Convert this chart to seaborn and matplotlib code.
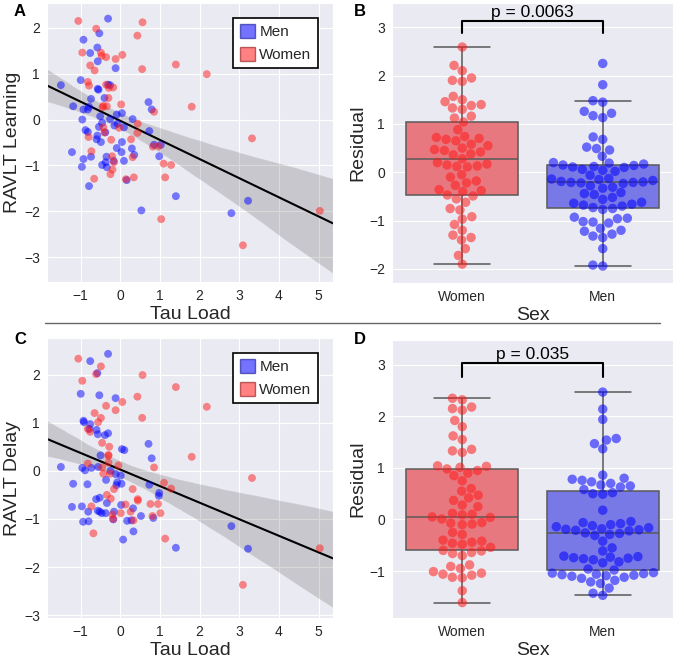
import numpy as np
import pandas as pd
import matplotlib
matplotlib.use("Agg")
import matplotlib.pyplot as plt
from matplotlib.patches import Patch
from matplotlib.lines import Line2D
import seaborn as sns

# ---------------- data ----------------
# Panel A: Tau load vs RAVLT Learning
tauA_men = [-0.31, -0.53, -0.93, -0.58, -0.76, -0.57, -0.12, -1.00, -1.50, -0.57, -0.55, -0.31, -0.26,
            -0.74, -0.40, -1.19, -0.79, -0.93, -0.82, 0.71, 0.79, 0.04, -0.09, -0.26, -0.96, -0.51, 0.31,
            -0.54, -0.46, -0.15, 0.09, -0.07, -0.88, -0.82, -0.58, -0.60, -0.49, -0.38, 0.73, 0.85, 1.02,
            0.04, -0.09, 0.03, 0.29, 0.35, 0.98, -1.22, -0.74, -0.93, -0.35, -0.17, 0.09, -0.37, -0.46,
            -0.97, -0.34, 0.16, -0.79, 1.40, 0.53, 2.80, 3.22]
learn_men = [2.20, 1.88, 1.74, 1.57, 1.45, 1.27, 1.12, 0.86, 0.75, 0.67, 0.65, 0.76, 0.75,
             0.45, 0.47, 0.29, 0.28, 0.22, 0.22, 0.38, 0.22, 0.14, 0.11, 0.01, 0.00, 0.07, 0.01,
             -0.16, -0.07, -0.13, -0.17, -0.09, -0.23, -0.27, -0.35, -0.43, -0.49, -0.28, -0.25, -0.55, -0.55,
             -0.49, -0.62, -0.71, -0.63, -0.77, -0.80, -0.71, -0.81, -0.86, -0.81, -0.90, -0.90, -0.93, -0.99,
             -1.03, -1.04, -1.32, -1.45, -1.67, -1.98, -2.04, -1.77]
tauA_women = [-1.06, -0.61, 0.56, 0.43, -0.96, -0.49, -0.47, -0.36, 0.05, -0.12, -0.76, -0.65, 0.55,
              1.40, 2.18, -0.82, -0.79, -0.36, -0.29, -0.18, -0.30, -0.43, -0.45, -0.34, 0.02, 1.80,
              0.85, -0.80, -0.43, -0.40, -0.03, 0.44, 0.43, -0.23, 0.27, 0.82, 0.97, -0.73, -0.21, 0.31,
              -0.16, 1.09, 1.28, -0.20, -0.25, -0.66, 0.14, 0.34, 1.13, 3.32, 1.03, 3.09, 5.03]
learn_women = [2.15, 1.98, 2.12, 1.83, 1.46, 1.46, 1.39, 1.36, 1.41, 1.32, 1.18, 1.07, 1.10,
               1.20, 0.99, 0.82, 0.74, 0.76, 0.69, 0.70, 0.47, 0.30, 0.27, 0.29, 0.33, 0.28,
               0.17, -0.38, -0.17, -0.28, -0.18, -0.09, -0.29, -0.44, -0.43, -0.59, -0.58, -0.69, -0.80, -0.82,
               -0.93, -0.96, -0.99, -1.09, -1.19, -1.29, -1.30, -1.26, -1.26, -0.41, -2.17, -2.74, -1.99]

# Panel C: Tau load vs RAVLT Delay
tauC_men = [-0.31, -0.76, -0.58, -1.00, -0.53, -0.12, -0.93, -0.92, -0.76, -0.78, -0.60, -0.57, -0.39,
            -0.31, 0.71, 0.79, 0.04, 0.10, -0.50, -1.50, -0.96, -0.89, -0.73, -0.56, -0.25, -0.36, -0.12,
            0.01, -0.08, -0.10, 0.03, -1.19, -0.83, 0.73, 0.98, 0.97, -0.61, -0.52, -0.34, -1.22, -0.97,
            0.02, 0.32, -0.57, -0.52, -0.47, -0.37, -0.81, -0.16, 0.52, 0.83, -0.94, -0.80, -0.18, 0.17,
            0.28, 0.33, 0.07, 1.40, 2.80, 3.22]
delay_men = [2.43, 2.28, 2.03, 1.60, 1.57, 1.51, 1.04, 1.01, 0.97, 0.87, 0.85, 0.76, 0.74,
             0.78, 0.56, 0.26, 0.45, 0.43, 0.32, 0.08, 0.06, 0.01, 0.06, 0.08, 0.00, -0.19, -0.07,
             -0.10, -0.24, -0.30, -0.27, -0.27, -0.28, -0.29, -0.46, -0.52, -0.59, -0.56, -0.67, -0.75, -0.74,
             -0.71, -0.78, -0.83, -0.85, -0.88, -0.88, -0.85, -0.85, -0.94, -0.98, -1.06, -1.05, -1.01, -1.04,
             -1.03, -1.26, -1.43, -1.60, -1.15, -1.62]
tauC_women = [-1.06, -0.49, -0.61, 0.56, -0.96, 1.40, 0.43, 0.05, -0.36, -0.12, 2.18, -0.65, 0.55,
              -0.49, -0.56, -0.82, -0.76, -0.46, -0.28, -0.30, -0.30, 1.80, -0.82, -0.05, 0.85, -0.46,
              -0.43, -0.26, -0.30, 0.31, -0.16, -0.34, -0.24, 0.44, 0.44, 1.28, 1.10, 0.76, 0.95, 0.13,
              -0.73, -0.20, 0.01, 1.01, 0.81, 0.26, -0.18, 0.33, -0.68, 1.13, 3.32, 3.09, 5.03]
delay_women = [2.33, 2.17, 2.01, 1.99, 1.87, 1.74, 1.54, 1.43, 1.35, 1.26, 1.33, 1.20, 1.10,
               1.10, 1.01, 0.87, 0.81, 0.58, 0.50, 0.33, 0.31, 0.29, 0.15, 0.11, 0.07, 0.07,
               -0.06, -0.06, 0.17, -0.38, -0.38, -0.50, -0.58, -0.59, -0.62, -0.37, -0.25, -0.69, -0.69, -0.70,
               -0.74, -0.91, -0.88, -0.88, -0.94, -0.85, -1.00, -1.03, -1.30, -1.41, -0.15, -2.37, -1.61]

# Panel B: residuals (learning) by sex
residB_women = [2.59, 2.21, 2.10, 1.95, 1.90, 1.88, 1.57, 1.50, 1.46, 1.40, 1.38, 1.33, 1.30, 1.16, 1.12,
                1.04, 0.88, 0.74, 0.72, 0.70, 0.68, 0.65, 0.58, 0.55, 0.50, 0.47, 0.45, 0.42, 0.38, 0.36,
                0.28, 0.20, 0.17, 0.15, 0.13, 0.12, 0.11, -0.05, -0.10, -0.18, -0.22, -0.27, -0.36, -0.38,
                -0.40, -0.47, -0.49, -0.55, -0.62, -0.75, -0.78, -0.92, -0.97, -1.08, -1.20, -1.30, -1.35,
                -1.40, -1.58, -1.72, -1.90]
residB_men = [2.25, 1.81, 1.48, 1.45, 1.26, 1.22, 1.17, 1.13, 0.73, 0.68, 0.52, 0.49, 0.46, 0.33,
              0.20, 0.19, 0.17, 0.15, 0.14, 0.12, 0.11, 0.10, 0.06, 0.04, 0.02, -0.06, -0.13, -0.14, -0.15,
              -0.17, -0.19, -0.20, -0.21, -0.21, -0.22, -0.23, -0.28, -0.31, -0.33, -0.42, -0.44, -0.46,
              -0.52, -0.56, -0.62, -0.64, -0.66, -0.68, -0.70, -0.73, -0.75, -0.77, -0.93, -0.95, -0.96,
              -1.02, -1.03, -1.05, -1.16, -1.20, -1.22, -1.28, -1.32, -1.35, -1.58, -1.92, -1.94]

# Panel D: residuals (delay) by sex
residD_women = [2.35, 2.32, 2.18, 2.15, 2.12, 1.92, 1.80, 1.62, 1.55, 1.36, 1.33, 1.30, 1.04, 1.03, 1.01,
                0.98, 0.95, 0.90, 0.85, 0.75, 0.60, 0.55, 0.47, 0.42, 0.37, 0.28, 0.25, 0.12, 0.10, 0.09,
                0.05, 0.04, 0.01, -0.06, -0.07, -0.09, -0.10, -0.25, -0.29, -0.40, -0.42, -0.44, -0.46,
                -0.48, -0.54, -0.60, -0.61, -0.64, -0.66, -0.70, -0.88, -0.91, -0.95, -1.01, -1.04, -1.06,
                -1.08, -1.12, -1.13, -1.38, -1.61]
residD_men = [2.47, 2.14, 1.94, 1.57, 1.54, 1.47, 1.37, 0.86, 0.80, 0.78, 0.76, 0.73, 0.70, 0.67, 0.65,
              0.63, 0.58, 0.52, 0.50, 0.49, 0.18, -0.04, -0.06, -0.08, -0.10, -0.12, -0.14, -0.16, -0.18,
              -0.19, -0.20, -0.21, -0.22, -0.26, -0.27, -0.29, -0.31, -0.42, -0.55, -0.61, -0.71, -0.72,
              -0.73, -0.74, -0.75, -0.76, -0.78, -0.82, -0.84, -0.96, -0.98, -1.03, -1.04, -1.05, -1.06,
              -1.07, -1.08, -1.09, -1.10, -1.12, -1.14, -1.18, -1.21, -1.24, -1.33, -1.43, -1.47]

sex_order = ["Women", "Men"]
p_B = "p = 0.0063"
p_D = "p = 0.035"

# ---------------- style ----------------
sns.set_style("darkgrid")
plt.rcParams["font.family"] = ["Liberation Sans", "DejaVu Sans"]
plt.rcParams["text.color"] = "0.15"
plt.rcParams["axes.labelcolor"] = "0.15"
plt.rcParams["xtick.color"] = "0.15"
plt.rcParams["ytick.color"] = "0.15"

dot_colors = {"Men": "#0000ff", "Women": "#ff1a1a"}
box_colors = {"Women": "#e8787f", "Men": "#7878e6"}

fig = plt.figure(figsize=(6.84, 6.59), dpi=100)
axA = fig.add_axes([0.0687, 0.5721, 0.418, 0.4233])
axB = fig.add_axes([0.5731, 0.5706, 0.4108, 0.4248])
axC = fig.add_axes([0.0687, 0.0622, 0.418, 0.4249])
axD = fig.add_axes([0.5731, 0.0622, 0.4108, 0.4219])

LABEL_FS = 14
TICK_FS = 10


def scatter_panel(ax, tm, ym, tw, yw, ylabel, ylim, yticks):
    df = pd.DataFrame({
        "Tau": list(tm) + list(tw),
        "Score": list(ym) + list(yw),
        "Sex": ["Men"] * len(tm) + ["Women"] * len(tw),
    })
    ax.set_xlim(-1.85, 5.36)
    ax.set_ylim(*ylim)
    sns.scatterplot(data=df, x="Tau", y="Score", hue="Sex", palette=dot_colors,
                    hue_order=["Men", "Women"], alpha=0.5, s=32, linewidth=0,
                    legend=False, ax=ax, zorder=3)
    sns.regplot(data=df, x="Tau", y="Score", scatter=False, truncate=False, ci=95,
                color="black", line_kws={"linewidth": 1.5}, ax=ax)
    ax.set_xlim(-1.85, 5.36)
    ax.set_ylim(*ylim)
    ax.set_xticks([-1, 0, 1, 2, 3, 4, 5])
    ax.set_yticks(yticks)
    ax.tick_params(labelsize=TICK_FS, pad=1.5)
    ax.set_xlabel("Tau Load", fontsize=LABEL_FS, labelpad=2)
    ax.set_ylabel(ylabel, fontsize=LABEL_FS, labelpad=2)
    handles = [Patch(facecolor=dot_colors["Men"], alpha=0.55, edgecolor="#000080", label="Men"),
               Patch(facecolor=dot_colors["Women"], alpha=0.55, edgecolor="#800000", label="Women")]
    leg = ax.legend(handles=handles, loc="upper right", fontsize=11, frameon=True,
                    fancybox=False, framealpha=1, edgecolor="black", borderaxespad=1.0,
                    handlelength=1.0, handleheight=1.0, handletextpad=0.3, labelspacing=0.5,
                    borderpad=0.4)
    leg.get_frame().set_linewidth(1.2)
    leg.get_frame().set_facecolor("white")


def box_panel(ax, rw, rm, ylim, yticks, ptext, ybr, leg_h):
    df = pd.DataFrame({
        "Sex": ["Women"] * len(rw) + ["Men"] * len(rm),
        "Residual": list(rw) + list(rm),
    })
    sns.boxplot(data=df, x="Sex", y="Residual", hue="Sex", order=sex_order,
                hue_order=sex_order, palette=box_colors, saturation=1, showfliers=False,
                whis=1.5, width=0.8, linecolor="0.35", linewidth=1.1, legend=False, ax=ax)
    sns.swarmplot(data=df, x="Sex", y="Residual", hue="Sex", order=sex_order,
                  hue_order=sex_order, palette=dot_colors, size=6.8, alpha=0.55,
                  legend=False, ax=ax, zorder=4)
    ax.plot([0, 0, 1, 1], [ybr - leg_h, ybr, ybr, ybr - leg_h], color="black", lw=1.5,
            zorder=5, clip_on=False)
    ax.text(0.5, ybr + 0.02, ptext, ha="center", va="bottom", fontsize=12.5, color="black")
    ax.set_ylim(*ylim)
    ax.set_xlim(-0.5, 1.5)
    ax.set_yticks(yticks)
    ax.tick_params(labelsize=TICK_FS, pad=1.5)
    ax.set_xlabel("Sex", fontsize=LABEL_FS, labelpad=2)
    ax.set_ylabel("Residual", fontsize=LABEL_FS, labelpad=2)


scatter_panel(axA, tauA_men, learn_men, tauA_women, learn_women,
              "RAVLT Learning", (-3.54, 2.54), [-3, -2, -1, 0, 1, 2])
scatter_panel(axC, tauC_men, delay_men, tauC_women, delay_women,
              "RAVLT Delay", (-3.06, 2.76), [-3, -2, -1, 0, 1, 2])
box_panel(axB, residB_women, residB_men, (-2.29, 3.5), [-2, -1, 0, 1, 2, 3], p_B, 3.13, 0.24)
box_panel(axD, residD_women, residD_men, (-1.91, 3.48), [-1, 0, 1, 2, 3], p_D, 3.03, 0.27)

# panel letters
for lab, (x, y) in {"A": (20, 11), "B": (360, 11), "C": (20, 340), "D": (360, 340)}.items():
    fig.text(x / 684, 1 - y / 659, lab, fontsize=12, fontweight="bold", color="black",
             ha="center", va="center")

# separator
fig.add_artist(Line2D([45 / 684, 660 / 684], [1 - 323 / 659, 1 - 323 / 659],
                      color="0.4", linewidth=1.0, transform=fig.transFigure))

fig.savefig("out.png", dpi=100)
